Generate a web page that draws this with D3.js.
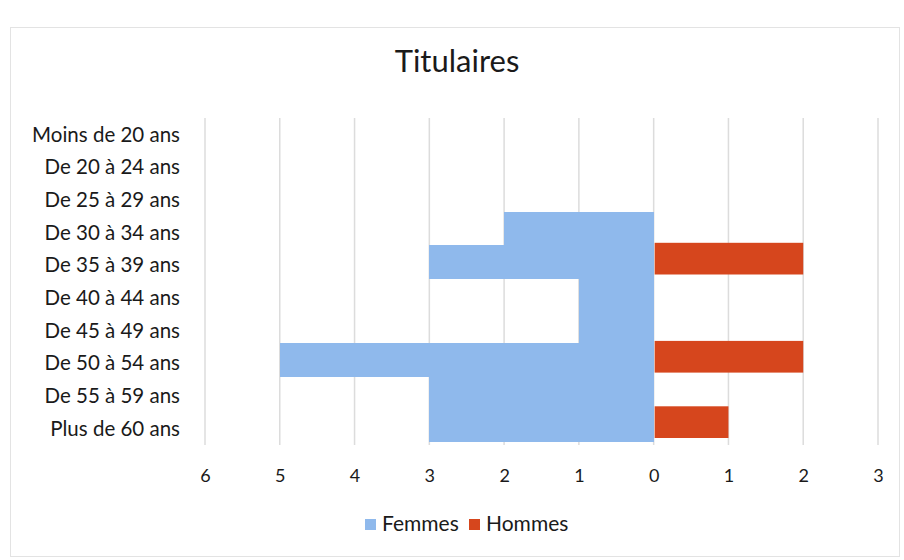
<!DOCTYPE html>
<html>
<head>
<meta charset="utf-8">
<script src="https://cdn.jsdelivr.net/npm/d3@7"></script>
<style>
  body { margin: 0; background: #fff; }
  text { font-family: "Lato", "Open Sans", sans-serif; fill: #1a1a1a; }
</style>
</head>
<body>
<div id="chart"></div>
<script>
var ages = ["Moins de 20 ans", "De 20 à 24 ans", "De 25 à 29 ans", "De 30 à 34 ans",
    "De 35 à 39 ans", "De 40 à 44 ans", "De 45 à 49 ans", "De 50 à 54 ans",
    "De 55 à 59 ans", "Plus de 60 ans"]
var femmes = [0, 0, 0, 2, 3, 1, 1, 5, 3, 3]
var hommes = [0, 0, 0, 0, 2, 0, 0, 2, 0, 1]
var ticks = [-6, -5, -4, -3, -2, -1, 0, 1, 2, 3]

var width = 904, height = 560

var svg = d3.select("#chart")
    .append("svg")
    .attr("width", width)
    .attr("height", height)

// cadre du graphique
svg.append("rect")
    .attr("x", 10.5)
    .attr("y", 27.5)
    .attr("width", 889)
    .attr("height", 529)
    .attr("fill", "none")
    .attr("stroke", "#e3e3e3")

var x = d3.scaleLinear().domain([-6, 3]).range([205, 878])
var y = d3.scaleBand().domain(ages).range([118, 445]).padding(0)

// grille verticale
svg.selectAll("line.grid")
    .data(ticks)
    .enter()
    .append("line")
    .attr("class", "grid")
    .attr("x1", function(d) { return x(d); })
    .attr("x2", function(d) { return x(d); })
    .attr("y1", y.range()[0])
    .attr("y2", y.range()[1])
    .attr("stroke", "#dcdcdc")
    .attr("stroke-width", 1.5)

// barres femmes (vers la gauche)
svg.selectAll("rect.femmes")
    .data(ages)
    .enter()
    .append("rect")
    .attr("class", "femmes")
    .attr("x", function(d, i) { return x(-femmes[i]); })
    .attr("y", function(d) { return y(d) - 4; })
    .attr("width", function(d, i) { return x(0) - x(-femmes[i]); })
    .attr("height", y.bandwidth() + 1)
    .attr("fill", "#8fb9ec")
    .attr("shape-rendering", "crispEdges")

// barres hommes (vers la droite)
svg.selectAll("rect.hommes")
    .data(ages)
    .enter()
    .append("rect")
    .attr("class", "hommes")
    .attr("x", x(0) + 1)
    .attr("y", function(d) { return y(d) - 6; })
    .attr("width", function(d, i) { return hommes[i] ? x(hommes[i]) - x(0) - 1 : 0; })
    .attr("height", y.bandwidth() - 1)
    .attr("fill", "#d6461d")

// axe des abscisses
var xAxis = svg.append("g")
    .attr("transform", "translate(0," + 466 + ")")
    .call(d3.axisBottom(x).tickValues(ticks).tickSize(0).tickFormat(function(d) { return Math.abs(d); }))
xAxis.select(".domain").remove()
xAxis.selectAll("text")
    .attr("font-size", 18)
    .style("font-family", "Lato, sans-serif")
    .attr("fill", "#1a1a1a")

// libellés des tranches d'âge
svg.selectAll("text.age")
    .data(ages)
    .enter()
    .append("text")
    .attr("class", "age")
    .attr("x", 180)
    .attr("y", function(d) { return y(d) + y.bandwidth() / 2; })
    .attr("dy", "0.35em")
    .attr("text-anchor", "end")
    .attr("font-size", 20.5)
    .text(function(d) { return d; })

svg.append("text")
    .attr("x", 457)
    .attr("y", 72)
    .attr("text-anchor", "middle")
    .attr("font-size", 31)
    .text("Titulaires")

// légende
var legend = [["Femmes", "#8fb9ec", 365], ["Hommes", "#d6461d", 469]]
var lg = svg.selectAll("g.legend")
    .data(legend)
    .enter()
    .append("g")
    .attr("class", "legend")
    .attr("transform", function(d) { return "translate(" + d[2] + ",519)"; })
lg.append("rect")
    .attr("width", 11)
    .attr("height", 11)
    .attr("fill", function(d) { return d[1]; })
lg.append("text")
    .attr("x", 17)
    .attr("y", 5)
    .attr("dy", "0.35em")
    .attr("font-size", 21)
    .text(function(d) { return d[0]; })
</script>
</body>
</html>
